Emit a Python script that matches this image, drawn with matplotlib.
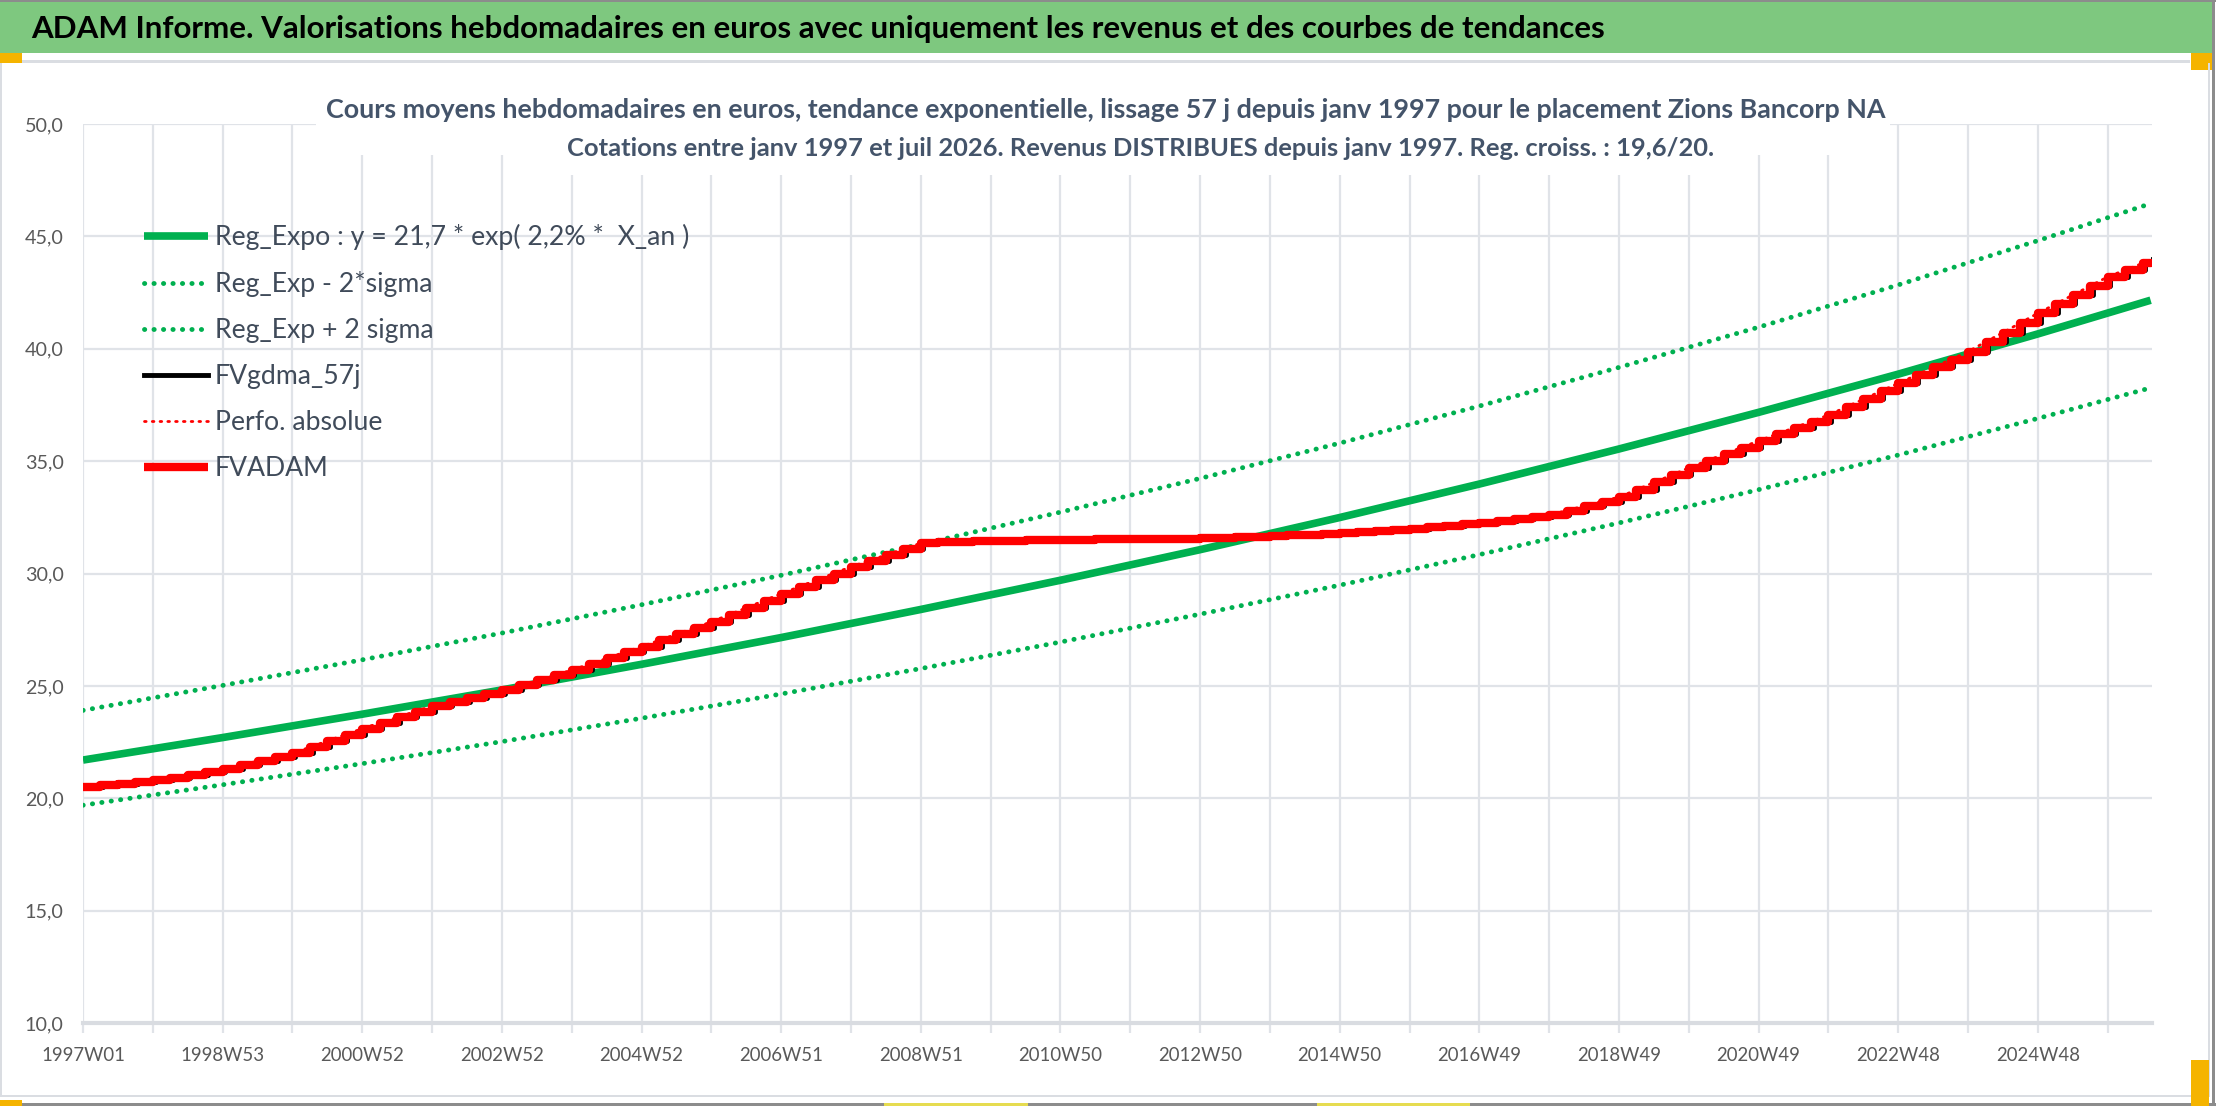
import numpy as np
import matplotlib
matplotlib.use("Agg")
import matplotlib.pyplot as plt
from matplotlib.patches import Rectangle

# ---- donnees ----
# semaines (index depuis 1997W01) des points de la regression
reg_weeks = [0, 104, 208, 312, 416, 520, 624, 728, 832, 936, 1040, 1144, 1248, 1352, 1456, 1540]
reg_expo = [21.70, 22.70, 23.74, 24.82, 25.96, 27.15, 28.40, 29.70, 31.06, 32.49,
            33.98, 35.54, 37.17, 38.87, 40.66, 42.16]
reg_plus = [23.91, 25.02, 26.16, 27.35, 28.61, 29.92, 31.30, 32.73, 34.23, 35.80,
            37.45, 39.17, 40.96, 42.84, 44.81, 46.46]
reg_moins = [19.69, 20.60, 21.54, 22.52, 23.56, 24.64, 25.77, 26.95, 28.19, 29.48,
             30.84, 32.25, 33.73, 35.27, 36.90, 38.26]

# FVADAM : une valeur par trimestre (13 semaines), derniere valeur en 2026W28
q_weeks = list(range(0, 1535, 13)) + [1540]
fv_adam = [20.50, 20.58, 20.65, 20.72, 20.80, 20.92, 21.05, 21.17,
           21.30, 21.47, 21.65, 21.82, 22.00, 22.27, 22.55, 22.82,
           23.10, 23.35, 23.60, 23.85, 24.10, 24.27, 24.45, 24.62,
           24.80, 25.02, 25.25, 25.47, 25.70, 25.96, 26.22, 26.49,
           26.75, 27.02, 27.30, 27.57, 27.85, 28.16, 28.47, 28.79,
           29.10, 29.40, 29.70, 30.00, 30.30, 30.56, 30.82, 31.09,
           31.35, 31.38, 31.41, 31.43, 31.45, 31.46, 31.47, 31.49,
           31.50, 31.51, 31.52, 31.52, 31.53, 31.54, 31.54, 31.55,
           31.56, 31.59, 31.61, 31.64, 31.67, 31.70, 31.73, 31.76,
           31.79, 31.84, 31.90, 31.95, 32.00, 32.07, 32.13, 32.20,
           32.26, 32.34, 32.43, 32.51, 32.60, 32.80, 33.00, 33.20,
           33.40, 33.72, 34.05, 34.37, 34.70, 35.00, 35.30, 35.60,
           35.90, 36.19, 36.47, 36.76, 37.05, 37.40, 37.75, 38.11,
           38.46, 38.81, 39.17, 39.52, 39.87, 40.30, 40.72, 41.15,
           41.58, 41.98, 42.39, 42.79, 43.20, 43.50, 43.80, 43.98]

tick_labels = ["1997W01", "1998W53", "2000W52", "2002W52", "2004W52", "2006W51",
               "2008W51", "2010W50", "2012W50", "2014W50", "2016W49", "2018W49",
               "2020W49", "2022W48", "2024W48"]
n_weeks = 1541

titre = ("ADAM Informe. Valorisations hebdomadaires en euros avec uniquement "
         "les revenus et des courbes de tendances")
sous_titre1 = ("Cours moyens hebdomadaires en euros, tendance exponentielle, lissage 57 j "
               "depuis janv 1997 pour le placement Zions Bancorp NA")
sous_titre2 = ("Cotations entre janv 1997 et juil 2026. Revenus DISTRIBUES depuis janv 1997. "
               "Reg. croiss. : 19,6/20.")
noms = ["Reg_Expo : y = 21,7 * exp( 2,2% *  X_an )", "Reg_Exp - 2*sigma",
        "Reg_Exp + 2 sigma", "FVgdma_57j", "Perfo. absolue", "FVADAM"]

plt.rcParams['font.family'] = ['Lato', 'DejaVu Sans']

W, H = 2216, 1106
fig = plt.figure(figsize=(W / 100, H / 100), dpi=100)
renderer = fig.canvas.get_renderer()


def boite(x0, y0, x1, y1, couleur, z=1):
    # rectangle en pixels (origine en haut a gauche)
    r = Rectangle((x0 / W, 1 - y1 / H), (x1 - x0) / W, (y1 - y0) / H,
                  transform=fig.transFigure, facecolor=couleur, edgecolor='none', zorder=z)
    fig.add_artist(r)


def taille_pour(texte, largeur, **kw):
    t = fig.text(0, 0, texte, fontsize=20, **kw)
    w = t.get_window_extent(renderer).width
    h = t.get_window_extent(renderer).height
    t.remove()
    return 20 * largeur / w, h * largeur / w


# cadre facon capture Excel
boite(0, 0, W, 2, '#8c8c8c')
boite(0, 2, 2213, 53, '#7ec87f')
boite(22, 60, 2190, 63, '#dadde2')
boite(0, 53, 22, 63, '#f5b400')
boite(2191, 53, 2213, 70, '#f5b400')
boite(2208, 63, 2210, 1097, '#dadde2')
boite(0, 63, 2, 1097, '#dadde2')
boite(2, 1095, 2210, 1097, '#dadde2')
boite(0, 1103, W, 1106, '#8c8c8c')
boite(0, 1100, 22, 1106, '#f5b400')
boite(884, 1103, 1028, 1106, '#e6dc50')
boite(1317, 1103, 1470, 1106, '#e6dc50')
boite(2191, 1060, 2209, 1106, '#f5b400')
boite(2212, 0, 2215, 1106, '#8c8c8c')

ax = fig.add_axes([83 / W, 1 - 1023 / H, (2152 - 83) / W, (1023 - 124) / H])
ax.set_xlim(0, n_weeks)
ax.set_ylim(10, 50)

grille = '#e0e3e8'
ax.set_yticks(np.arange(10, 51, 5))
ax.set_yticklabels([f"{v:.1f}".replace('.', ',') for v in np.arange(10, 51, 5)])
xt = list(range(0, n_weeks, 52))
ax.set_xticks(xt)
ax.set_xticklabels([tick_labels[i // 2] if i % 2 == 0 else '' for i in range(len(xt))])
ax.grid(True, color=grille, lw=1.6)
for s in ['top', 'right', 'left']:
    ax.spines[s].set_visible(False)
ax.spines['bottom'].set_color('#d9dce1')
ax.spines['bottom'].set_linewidth(3)

fx, _ = taille_pour("1997W01", 84)
fy, _ = taille_pour("50,0", 39)
ax.tick_params(axis='x', length=7, width=1.6, color=grille, pad=10,
               labelsize=fx, labelcolor='#595959')
ax.tick_params(axis='y', length=0, pad=14, labelsize=fy, labelcolor='#595959')

vert = '#00b050'
h_reg, = ax.plot(reg_weeks, reg_expo, color=vert, lw=5.5, solid_capstyle='butt', zorder=3)
h_moins, = ax.plot(reg_weeks, reg_moins, color=vert, lw=3.5, linestyle=(0, (0.05, 1.9)),
                   dash_capstyle='round', zorder=3)
h_plus, = ax.plot(reg_weeks, reg_plus, color=vert, lw=3.5, linestyle=(0, (0.05, 1.9)),
                  dash_capstyle='round', zorder=3)
h_gdma, = ax.plot([w + 2 for w in q_weeks], fv_adam, drawstyle='steps-post',
                  color='black', lw=3.5, zorder=4)
h_perfo, = ax.plot(q_weeks, fv_adam, color='#ff0000', lw=2.0, linestyle=(0, (0.6, 2.2)),
                   dash_capstyle='round', zorder=4)
h_adam, = ax.plot(q_weeks, fv_adam, drawstyle='steps-post', color='#ff0000', lw=6,
                  solid_capstyle='butt', zorder=5)

# legende
fl, hl = taille_pour(noms[0], 473)
fl_px = fl * 100 / 72
leg = ax.legend([h_reg, h_moins, h_plus, h_gdma, h_perfo, h_adam], noms,
                loc='upper left', bbox_to_anchor=(144 / W, 1 - (237 - hl / 2) / H),
                bbox_transform=fig.transFigure, frameon=False, borderpad=0,
                borderaxespad=0, fontsize=fl, handlelength=64 / fl_px,
                handletextpad=7 / fl_px, labelspacing=(47.5 - hl) / fl_px,
                labelcolor='#404b5a')

# titres
ft, _ = taille_pour(titre, 1573, fontweight='bold')
fig.text(31 / W, 1 - 29 / H, titre, ha='left', va='center', fontweight='bold',
         fontsize=ft, color='black', zorder=3)

boite(316, 63, 1890, 155, 'white', z=2)
boite(545, 128, 1740, 175, 'white', z=2)
f1, _ = taille_pour(sous_titre1, 1562, fontweight='bold')
f2, _ = taille_pour(sous_titre2, 1146, fontweight='bold')
fig.text(1106 / W, 1 - 110 / H, sous_titre1, ha='center', va='center', fontweight='bold',
         fontsize=f1, color='#44546a', zorder=3)
fig.text(1141 / W, 1 - 148 / H, sous_titre2, ha='center', va='center', fontweight='bold',
         fontsize=f2, color='#44546a', zorder=3)

fig.savefig("out.png", dpi=100)
